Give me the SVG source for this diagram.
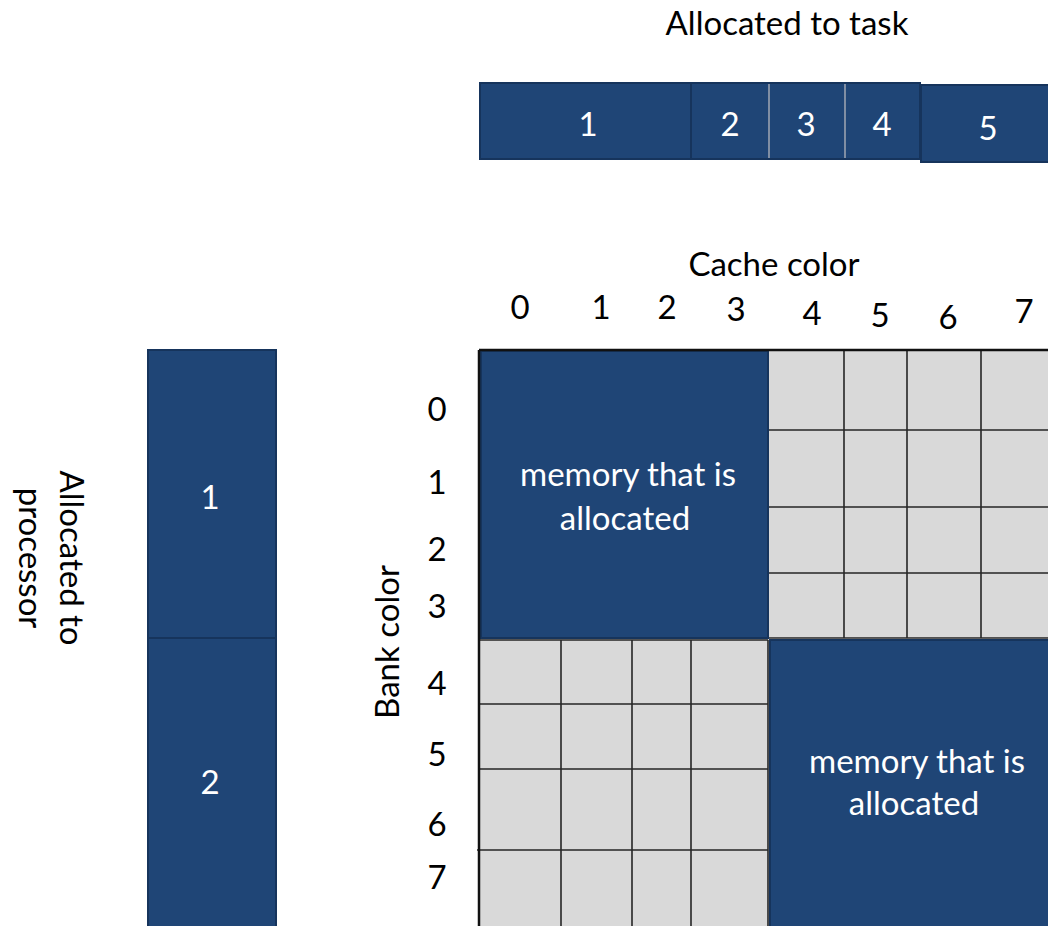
<svg xmlns="http://www.w3.org/2000/svg" width="1048" height="926" viewBox="0 0 1048 926">
<style>
.t{font-family:Lato,"Open Sans","Liberation Sans",sans-serif;font-size:33px;fill:#000;text-anchor:middle}
.w{font-family:Lato,"Open Sans","Liberation Sans",sans-serif;font-size:33px;fill:#fff;text-anchor:middle}
.blue{fill:#1F4576;stroke:#16345C;stroke-width:2}
.cell{fill:#D9D9D9}
.gl{stroke:#262626;stroke-width:1.6;fill:none}
</style>
<rect width="1048" height="926" fill="#fff"/>

<g id="task-title"><text class="t" x="787" y="35">Allocated to task</text></g>
<g id="task-bar">
  <g id="task1"><rect class="blue" x="480" y="83" width="211" height="76"/><text class="w" x="588" y="136">1</text></g>
  <g id="task2"><rect class="blue" x="691" y="83" width="78" height="76"/><text class="w" x="730" y="136">2</text></g>
  <g id="task3"><rect class="blue" x="769" y="83" width="76" height="76"/><text class="w" x="806" y="136">3</text></g>
  <g id="task4"><rect class="blue" x="845" y="83" width="75" height="76"/><text class="w" x="882" y="136">4</text></g>
  <g id="task5"><rect class="blue" x="921" y="85" width="130" height="77"/><text class="w" x="988" y="140">5</text></g>
  <line x1="769" y1="84" x2="769" y2="158" stroke="#c8ccd4" stroke-width="1.2"/>
  <line x1="845" y1="84" x2="845" y2="158" stroke="#c8ccd4" stroke-width="1.2"/>
</g>

<g id="cache-axis">
  <text class="t" x="774" y="276">Cache color</text>
  <text class="t" x="520" y="319">0</text>
  <text class="t" x="601" y="319">1</text>
  <text class="t" x="667" y="319">2</text>
  <text class="t" x="736" y="321">3</text>
  <text class="t" x="812" y="325">4</text>
  <text class="t" x="880" y="327">5</text>
  <text class="t" x="948" y="329">6</text>
  <text class="t" x="1024" y="323">7</text>
</g>

<g id="bank-axis">
  <text class="t" transform="translate(399,642) rotate(-90)">Bank color</text>
  <text class="t" x="437" y="421">0</text>
  <text class="t" x="437" y="494">1</text>
  <text class="t" x="437" y="561">2</text>
  <text class="t" x="437" y="618">3</text>
  <text class="t" x="437" y="695">4</text>
  <text class="t" x="437" y="766">5</text>
  <text class="t" x="437" y="836">6</text>
  <text class="t" x="437" y="889">7</text>
</g>

<g id="free-top-right">
  <rect class="cell" x="768" y="350" width="280" height="288"/>
  <path class="gl" d="M844 350V638M907 350V638M981 350V638M768 430H1048M768 507H1048M768 573H1048M768 638H1048"/>
</g>
<g id="free-bottom-left">
  <rect class="cell" x="480" y="638" width="289" height="288"/>
  <path class="gl" d="M561 640V926M632 640V926M691 640V926M768 640V926M480 640H768M480 704H768M480 769H768M477 850H768"/>
</g>

<g id="alloc-top-left">
  <rect class="blue" x="481" y="351" width="287" height="287"/>
  <text class="w" x="628" y="486">memory that is</text>
  <text class="w" x="625" y="530">allocated</text>
</g>
<g id="alloc-bottom-right">
  <rect class="blue" x="770" y="640" width="280" height="288"/>
  <text class="w" x="917" y="773">memory that is</text>
  <text class="w" x="914" y="815">allocated</text>
</g>

<g id="frame">
  <path d="M479 350H1048M479 350V926" stroke="#111" stroke-width="2.5" fill="none"/>
</g>

<g id="proc-bar">
  <g id="proc1"><rect class="blue" x="148" y="350" width="128" height="288"/><text class="w" x="210" y="509">1</text></g>
  <g id="proc2"><rect class="blue" x="148" y="638" width="128" height="290"/><text class="w" x="210" y="794">2</text></g>
</g>

<g id="proc-title">
  <text class="t" transform="translate(60,558) rotate(90)">Allocated to</text>
  <text class="t" transform="translate(19,558) rotate(90)">processor</text>
</g>
</svg>
